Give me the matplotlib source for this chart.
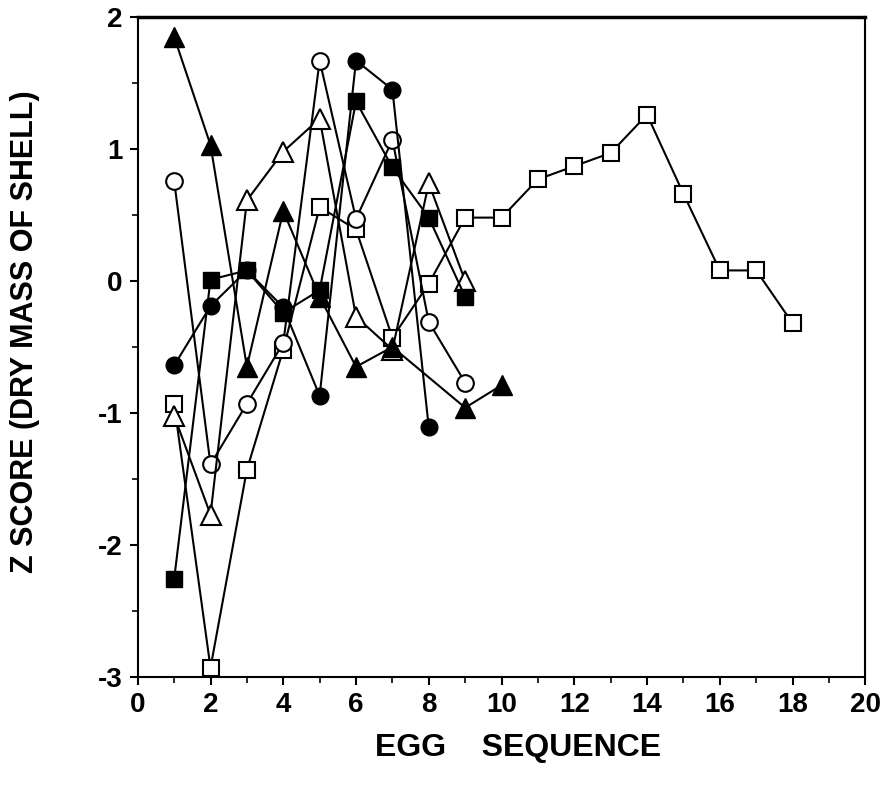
import matplotlib
matplotlib.use("Agg")
import matplotlib.pyplot as plt

plt.rcParams['font.family'] = ['Liberation Sans', 'DejaVu Sans']
plt.rcParams['font.weight'] = 'bold'
plt.rcParams['axes.unicode_minus'] = False

# egg sequence vs z score, one list per clutch
tri_fill_x = [1, 2, 3, 4, 5, 6, 7, 9, 10]
tri_fill_y = [1.85, 1.03, -0.65, 0.53, -0.12, -0.65, -0.50, -0.96, -0.79]

tri_open_x = [1, 2, 3, 4, 5, 6, 7, 8, 9]
tri_open_y = [-1.02, -1.77, 0.61, 0.98, 1.23, -0.27, -0.52, 0.74, 0.00]

circ_fill_x = [1, 2, 3, 4, 5, 6, 7, 8]
circ_fill_y = [-0.64, -0.19, 0.08, -0.20, -0.87, 1.67, 1.45, -1.11]

sq_fill_x = [1, 2, 3, 4, 5, 6, 7, 8, 9]
sq_fill_y = [-2.26, 0.01, 0.08, -0.24, -0.07, 1.36, 0.86, 0.48, -0.12]

circ_open_x = [1, 2, 3, 4, 5, 6, 7, 8, 9]
circ_open_y = [0.76, -1.39, -0.93, -0.47, 1.67, 0.47, 1.07, -0.31, -0.77]

sq_open_x = list(range(1, 19))
sq_open_y = [-0.93, -2.93, -1.43, -0.52, 0.56, 0.39, -0.43, -0.02, 0.48,
             0.48, 0.77, 0.87, 0.97, 1.26, 0.66, 0.08, 0.08, -0.32]

fig = plt.figure(figsize=(8.83, 7.93), dpi=100)
ax = fig.add_axes([0.156, 0.1463, 0.824, 0.8323])

lw = 1.5
ax.plot(sq_open_x, sq_open_y, color='black', lw=lw, marker='s', ms=11,
        mfc='white', mec='black', mew=1.5)
ax.plot(circ_open_x, circ_open_y, color='black', lw=lw, marker='o', ms=12,
        mfc='white', mec='black', mew=1.5)
ax.plot(tri_open_x, tri_open_y, color='black', lw=lw, marker='^', ms=14,
        mfc='white', mec='black', mew=1.5)
ax.plot(sq_fill_x, sq_fill_y, color='black', lw=lw, marker='s', ms=11,
        mfc='black', mec='black')
ax.plot(circ_fill_x, circ_fill_y, color='black', lw=lw, marker='o', ms=12,
        mfc='black', mec='black')
ax.plot(tri_fill_x, tri_fill_y, color='black', lw=lw, marker='^', ms=14,
        mfc='black', mec='black')

ax.set_xlim(0, 20)
ax.set_ylim(-3, 2)
ax.set_xticks(range(0, 21, 2))
ax.set_xticks(range(0, 21, 1), minor=True)
ax.set_yticks(range(-3, 3))
ax.set_yticks([-2.5, -1.5, -0.5, 0.5, 1.5], minor=True)
ax.tick_params(axis='both', which='major', direction='out', length=6,
               width=1.5, labelsize=20, pad=5)
ax.tick_params(axis='both', which='minor', direction='out', length=4, width=1.2)
for lab in ax.get_xticklabels() + ax.get_yticklabels():
    lab.set_fontweight('bold')

for side in ['left', 'bottom', 'right']:
    ax.spines[side].set_linewidth(1.5)
ax.spines['top'].set_linewidth(2.5)

fig.text(518 / 883, 1 - 748 / 793, 'EGG    SEQUENCE', fontsize=23,
         fontweight='bold', ha='center', va='center')
fig.text(25 / 883, 1 - 332 / 793, 'Z SCORE (DRY MASS OF SHELL)', fontsize=22,
         fontweight='bold', ha='center', va='center', rotation=90)

fig.savefig('out.png', dpi=100)
